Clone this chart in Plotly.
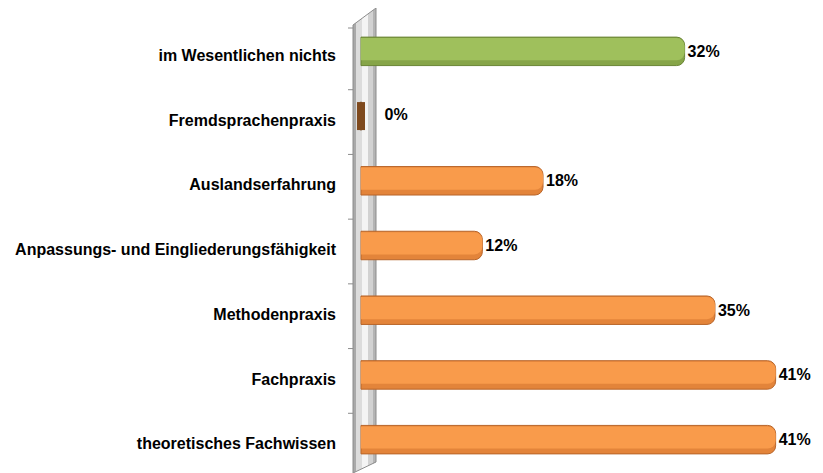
import plotly.graph_objects as go

categories = [
    "im Wesentlichen nichts",
    "Fremdsprachenpraxis",
    "Auslandserfahrung",
    "Anpassungs- und Eingliederungsfähigkeit",
    "Methodenpraxis",
    "Fachpraxis",
    "theoretisches Fachwissen",
]
values = [32, 0, 18, 12, 35, 41, 41]
bar_colors = ["#9FC05C", "#7F4A1E", "#F99B4B", "#F99B4B", "#F99B4B", "#F99B4B", "#F99B4B"]
shade_colors = ["#86A548", "#5C3410", "#E3843A", "#E3843A", "#E3843A", "#E3843A", "#E3843A"]
line_colors = ["#6A8535", "#5C3410", "#B8652A", "#B8652A", "#B8652A", "#B8652A", "#B8652A"]
value_labels = [f"{v}%" for v in values]

# page body margin of the browser (8px) is compensated here
OFF = 8
W, H = 823 - OFF, 473 - OFF
L, R, T, B = 353 - OFF, 15, 19 - OFF, 1
PW = W - L - R
PH = H - T - B

FONT = "Liberation Sans, Arial, sans-serif"
BW = 0.44

fig = go.Figure()

# shaded body of each cylinder
fig.add_trace(go.Bar(
    x=values, y=categories, orientation="h",
    marker=dict(color=shade_colors, line=dict(color=line_colors, width=1)),
    width=BW, offset=-BW / 2,
    text=[lab if v != 0 else "" for lab, v in zip(value_labels, values)],
    textposition="outside",
    textfont=dict(family=FONT, size=16, color="#000000", weight="bold"),
    cliponaxis=False, hoverinfo="skip", showlegend=False,
))
# lit upper part of each cylinder
fig.add_trace(go.Bar(
    x=values, y=categories, orientation="h",
    marker=dict(color=bar_colors, line=dict(width=0)),
    width=BW * 0.78, offset=-BW / 2 + 0.015,
    hoverinfo="skip", showlegend=False,
))

# zero-valued bars drawn as a small cap
zx = [v for v in values if v == 0]
zy = [c for c, v in zip(categories, values) if v == 0]
zc = [col for col, v in zip(bar_colors, values) if v == 0]
zt = [lab for lab, v in zip(value_labels, values) if v == 0]
fig.add_trace(go.Scatter(
    x=zx, y=zy, mode="markers",
    marker=dict(symbol="line-ns", size=20, line=dict(color=zc, width=8)),
    cliponaxis=False, hoverinfo="skip", showlegend=False,
))
fig.add_trace(go.Scatter(
    x=zx, y=zy, mode="markers+text",
    marker=dict(symbol="circle", size=36, color="rgba(0,0,0,0)", line=dict(width=0)),
    text=zt, textposition="middle right",
    textfont=dict(family=FONT, size=16, color="#000000", weight="bold"),
    cliponaxis=False, hoverinfo="skip", showlegend=False,
))

# decorative 3D wall, given in screen pixels
def px(xp):
    return (xp - OFF - L) / PW

def py(yp):
    return (H - B - (yp - OFF)) / PH

def top(x):
    return 25 + (8 - 25) * (x - 353) / 23

def bot(x):
    return 473 + (462 - 473) * (x - 353) / 23

shapes = []
strips = [(353, 356, "#a9a9a9"), (356, 362, "#dcdcdc"), (362, 368, "#f4f4f4"),
          (368, 373, "#d2d2d2"), (373, 376, "#b4b4b4")]
for x0, x1, col in strips:
    path = (f"M {px(x0)},{py(top(x0))} L {px(x1)},{py(top(x1))} "
            f"L {px(x1)},{py(bot(x1))} L {px(x0)},{py(bot(x0))} Z")
    shapes.append(dict(type="path", path=path, xref="paper", yref="paper",
                       fillcolor=col, line=dict(width=0), layer="below"))
outline = (f"M {px(353)},{py(25)} L {px(376)},{py(8)} L {px(376)},{py(462)} "
           f"L {px(353)},{py(473)} Z")
shapes.append(dict(type="path", path=outline, xref="paper", yref="paper",
                   fillcolor="rgba(0,0,0,0)", line=dict(color="#8c8c8c", width=1), layer="below"))
band = PH / len(categories)
for k in range(len(categories)):
    yp = 19 + band * k + 6 + (3 if k == 0 else 0)
    shapes.append(dict(type="line", xref="paper", yref="paper",
                       x0=px(348), x1=px(353), y0=py(yp), y1=py(yp),
                       line=dict(color="#8c8c8c", width=1)))

fig.update_layout(
    width=W, height=H,
    margin=dict(l=L, r=R, t=T, b=B, pad=0, autoexpand=False),
    plot_bgcolor="#ffffff", paper_bgcolor="#ffffff",
    shapes=shapes,
    barmode="overlay",
    xaxis=dict(range=[-0.79, 44.2], visible=False, fixedrange=True, automargin=False),
    yaxis=dict(
        categoryorder="array", categoryarray=categories, autorange="reversed",
        showline=False, showgrid=False, zeroline=False, ticks="",
        ticklabelstandoff=16, ticklabelshift=-4, automargin=False,
        tickfont=dict(family=FONT, size=16, color="#000000", weight="bold"),
    ),
    barcornerradius=8,
)

fig.write_html("out.html")
